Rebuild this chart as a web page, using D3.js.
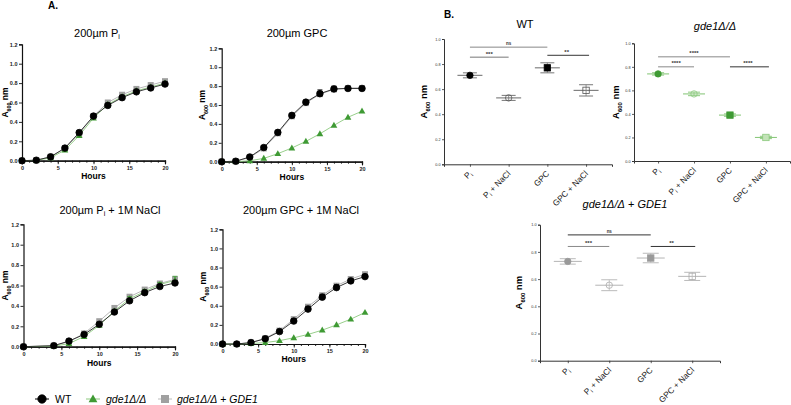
<!DOCTYPE html>
<html><head><meta charset="utf-8">
<script src="https://cdn.jsdelivr.net/npm/d3@7"></script>
<style>body{margin:0;background:#fff}svg{display:block;font-family:"Liberation Sans",Arial,sans-serif}</style>
</head><body><svg id="c" width="791" height="405"></svg>
<script>
// ---------- DATA ----------
const hours = [0,2,4,6,8,10,12,14,16,18,20];
const hoursNaCl = [0,4,6,8,10,12,14,16,18,20];
const seriesNames = ["WT","gde1Δ/Δ","gde1Δ/Δ + GDE1"];
// Panel A1: 200µm Pi
const wtPi   = [0,0.005,0.04,0.13,0.29,0.46,0.57,0.65,0.71,0.75,0.79];
const gdePi  = [0,0.003,0.03,0.11,0.26,0.44,0.58,0.66,0.72,0.76,0.80];
const compPi = [0,0.005,0.04,0.13,0.28,0.46,0.60,0.68,0.74,0.78,0.82];
// Panel A2: 200µm GPC
const wtGPC   = [0,0.005,0.05,0.15,0.31,0.49,0.63,0.72,0.77,0.775,0.775];
const wtGPCErr= [0,0,0.01,0.015,0.02,0.02,0.02,0.04,0.03,0.01,0.01];
const gdeGPC  = [0,0,0.01,0.035,0.085,0.145,0.215,0.295,0.385,0.47,0.535];
const compGPC = [0,0.005,0.045,0.14,0.30,0.48,0.62,0.715,0.765,0.78,0.78];
// Panel A3: 200µm Pi + 1M NaCl
const wtPiNaCl   = [0,0.01,0.055,0.12,0.22,0.34,0.45,0.53,0.59,0.625];
const gdePiNaCl  = [0,0.005,0.03,0.10,0.21,0.35,0.47,0.54,0.61,0.65];
const gdePiNaClErr=[0,0,0.005,0.01,0.01,0.015,0.02,0.02,0.02,0.04];
const compPiNaCl = [0,0.01,0.05,0.13,0.25,0.38,0.49,0.56,0.62,0.66];
// Panel A4: 200µm GPC + 1M NaCl
const wtGPCNaCl   = [0,0,0.015,0.055,0.13,0.24,0.365,0.49,0.59,0.66,0.705];
const wtGPCNaClErr= [0,0,0.005,0.01,0.02,0.025,0.03,0.03,0.03,0.02,0.02];
const gdeGPCNaCl  = [0,0,0.005,0.015,0.035,0.065,0.10,0.145,0.20,0.26,0.33];
const compGPCNaCl = [0,0,0.015,0.06,0.14,0.26,0.39,0.51,0.61,0.68,0.73];
const xTicksA = [0,5,10,15,20];
const yTicksA = [0,0.2,0.4,0.6,0.8,1.0,1.2];
// Panel B
const bCategories = ["Pi","Pi + NaCl","GPC","GPC + NaCl"];
const wtMeans = [0.71,0.53,0.77,0.59];
const wtErr   = [0.02,0.02,0.04,0.045];
const gdeMeans= [0.74,0.57,0.39,0.20];
const gdeErr  = [0.01,0.015,0.01,0.01];
const compMeans=[0.73,0.555,0.755,0.62];
const compErr = [0.02,0.04,0.035,0.03];
const yTicksB = [0,0.2,0.4,0.6,0.8,1.0];
const wtSig   = [[0,1,0.855,"***"],[0,2,0.935,"ns"],[2,3,0.87,"**"]];
const gdeSig  = [[0,1,0.80,"****"],[0,2,0.885,"****"],[2,3,0.80,"****"]];
const compSig = [[0,2,0.925,"ns"],[0,1,0.84,"***"],[2,3,0.84,"**"]];

// ---------- STYLE ----------
const GREEN = "#3f9a34", GREEN_L = "#8cc97e", GRAY = "#a0a0a0";
const svg = d3.select("#c");

function a600(g, x, y, size){
  const t = g.append("text").attr("transform",`translate(${x},${y}) rotate(-90)`)
    .attr("text-anchor","middle").attr("font-size",size).attr("font-weight","bold");
  t.append("tspan").text("A");
  t.append("tspan").attr("font-size",size*0.62).attr("dy",size*0.3).text("600");
  t.append("tspan").attr("dy",-size*0.3).text(" nm");
}

function marker(g, type, x, y, fill, stroke, s){
  if(type==="circle") g.append("circle").attr("cx",x).attr("cy",y).attr("r",s).attr("fill",fill).attr("stroke",stroke).attr("stroke-width",0.8);
  else if(type==="square") g.append("rect").attr("x",x-s).attr("y",y-s).attr("width",2*s).attr("height",2*s).attr("fill",fill).attr("stroke",stroke).attr("stroke-width",0.8);
  else if(type==="tri") g.append("path").attr("d",`M${x},${y-s*1.1}L${x+s*1.05},${y+s*0.75}L${x-s*1.05},${y+s*0.75}Z`).attr("fill",fill);
}

function panelA(o){
  const g = svg.append("g");
  const x = d3.scaleLinear().domain([0,20]).range([o.x0,o.x1]);
  const y = d3.scaleLinear().domain([0,1.2]).range([o.y0,o.y1]);
  const ax = g.append("g").attr("transform",`translate(0,${o.y0})`)
    .call(d3.axisBottom(x).tickValues(d3.range(0,21,1)).tickSize(2).tickFormat(""));
  const ax2 = g.append("g").attr("transform",`translate(0,${o.y0})`)
    .call(d3.axisBottom(x).tickValues(xTicksA).tickSize(3.5).tickPadding(2).tickFormat(d3.format("d")));
  const ay = g.append("g").attr("transform",`translate(${o.x0},0)`)
    .call(d3.axisLeft(y).tickValues(yTicksA).tickSize(3).tickPadding(1.5).tickFormat(d3.format(".1f")));
  [ax,ax2,ay].forEach(a=>{a.select(".domain").attr("stroke","#111").attr("stroke-width",1.2);
    a.selectAll(".tick line").attr("stroke","#111").attr("stroke-width",0.9);
    a.selectAll("text").attr("font-size",5.5).attr("font-weight","bold").attr("fill","#222");});
  const t = g.append("text").attr("x",o.tx).attr("y",o.ty).attr("text-anchor","middle").attr("font-size",11);
  t.append("tspan").text(o.title[0]);
  if(o.title.length>1){ t.append("tspan").attr("font-size",7).attr("dy",2).text("i"); t.append("tspan").attr("dy",-2).text(o.title[1]); }
  a600(g, o.ax, (o.y0+o.y1)/2, 8.5);
  g.append("text").attr("x",(o.x0+o.x1)/2).attr("y",o.hy).attr("text-anchor","middle").attr("font-size",8.5).attr("font-weight","bold").text("Hours");
  const line = d3.line().x(d=>x(d[0])).y(d=>y(d[1]));
  const series = [
    {v:o.comp, e:o.compErr, col:GRAY, lc:"#b0b0b0", type:"square", s:3},
    {v:o.gde, e:o.gdeErr, col:GREEN, lc:GREEN_L, type:"tri", s:3.2},
    {v:o.wt, e:o.wtErr, col:"#000", lc:"#222", type:"circle", s:3.3}];
  series.forEach(S=>{
    const pts = o.t.map((h,i)=>[h,S.v[i]]);
    g.append("path").datum(pts).attr("d",line).attr("fill","none").attr("stroke",S.lc).attr("stroke-width",0.9);
    if(S.e) o.t.forEach((h,i)=>{ if(S.e[i]>0.012){
      g.append("line").attr("x1",x(h)).attr("x2",x(h)).attr("y1",y(S.v[i])).attr("y2",y(S.v[i]+S.e[i])).attr("stroke",S.col).attr("stroke-width",0.9);
      g.append("line").attr("x1",x(h)-2.5).attr("x2",x(h)+2.5).attr("y1",y(S.v[i]+S.e[i])).attr("y2",y(S.v[i]+S.e[i])).attr("stroke",S.col).attr("stroke-width",0.9);}});
    pts.forEach(p=>marker(g,S.type,x(p[0]),y(p[1]),S.col,S.col==="#000"?"#000":"none",S.s));
  });
}

panelA({x0:22,x1:165,y0:160.7,y1:44.3,tx:97,ty:37,ax:8,hy:179,title:["200µm P",""],t:hours,
  wt:wtPi,gde:gdePi,comp:compPi});
panelA({x0:221.7,x1:362,y0:161.7,y1:48.3,tx:297,ty:37,ax:205,hy:180,title:["200µm GPC"],t:hours,
  wt:wtGPC,wtErr:wtGPCErr,gde:gdeGPC,comp:compGPC});
panelA({x0:23.5,x1:175,y0:346.7,y1:224.3,tx:110,ty:214,ax:8,hy:366,title:["200µm P"," + 1M NaCl"],t:hoursNaCl,
  wt:wtPiNaCl,gde:gdePiNaCl,gdeErr:gdePiNaClErr,comp:compPiNaCl});
panelA({x0:222.5,x1:365,y0:344,y1:229.3,tx:301,ty:214,ax:206,hy:362,title:["200µm GPC + 1M NaCl"],t:hours,
  wt:wtGPCNaCl,wtErr:wtGPCNaClErr,gde:gdeGPCNaCl,comp:compGPCNaCl});

svg.append("text").attr("x",48).attr("y",9).attr("font-size",10).attr("font-weight","bold").text("A.");
svg.append("text").attr("x",444).attr("y",18).attr("font-size",10).attr("font-weight","bold").text("B.");

// legend
(function(){
  const ly = 399;
  const g = svg.append("g");
  const items = [
    {x:42, type:"circle", col:"#000", lc:"#000", s:4.2, tx:55},
    {x:93, type:"tri", col:GREEN, lc:GREEN_L, s:4.2, tx:106},
    {x:165, type:"square", col:GRAY, lc:"#bbb", s:4, tx:177}];
  items.forEach((it,i)=>{
    g.append("line").attr("x1",it.x-7).attr("x2",it.x+7).attr("y1",ly).attr("y2",ly).attr("stroke",it.lc).attr("stroke-width",1);
    marker(g,it.type,it.x,ly,it.col,it.col==="#000"?"#000":"none",it.s);
    const t = g.append("text").attr("x",it.tx).attr("y",ly+3.7).attr("font-size",10.5);
    if(i===0) t.text(seriesNames[0]);
    else if(i===1) t.append("tspan").attr("font-style","italic").text(seriesNames[1]);
    else { t.append("tspan").attr("font-style","italic").text("gde1Δ/Δ"); t.append("tspan").text(" + "); t.append("tspan").attr("font-style","italic").text("GDE1"); }
  });
})();

function catLabel(g, x, y, name){
  const t = g.append("text").attr("transform",`translate(${x+2.5},${y}) rotate(-45)`).attr("text-anchor","end").attr("font-size",8.3).attr("fill","#222");
  if(name.startsWith("Pi")){ t.append("tspan").text("P"); t.append("tspan").attr("font-size",5.8).attr("dy",1.8).text("i");
    if(name.length>2) t.append("tspan").attr("dy",-1.8).text(name.slice(2)); }
  else t.text(name);
}

function panelB(o){
  const g = svg.append("g");
  const x = d3.scalePoint().domain(bCategories).range([o.x0,o.x1]).padding(0.67);
  const y = d3.scaleLinear().domain([0,1]).range([o.y0,o.y1]);
  const ax = g.append("g").attr("transform",`translate(0,${o.y0})`).call(d3.axisBottom(x).tickSize(2.5).tickFormat(""));
  const ay = g.append("g").attr("transform",`translate(${o.x0},0)`).call(d3.axisLeft(y).tickValues(yTicksB).tickSize(2).tickPadding(1.5).tickFormat(d3.format(".1f")));
  [ax,ay].forEach(a=>{a.select(".domain").attr("stroke","#333").attr("stroke-width",1);
    a.selectAll(".tick line").attr("stroke","#333").attr("stroke-width",0.8);
    a.selectAll("text").attr("font-size",3.8).attr("fill","#333");});
  bCategories.forEach(c=>catLabel(g, x(c), o.y0+10, c));
  const tt = g.append("text").attr("x",o.tx).attr("y",o.ty).attr("text-anchor","middle").attr("font-size",11);
  if(o.title==="WT") tt.text("WT");
  else if(o.title==="gde") tt.attr("font-style","italic").text("gde1Δ/Δ");
  else { tt.append("tspan").attr("font-style","italic").text("gde1Δ/Δ"); tt.append("tspan").text(" + "); tt.append("tspan").attr("font-style","italic").text("GDE1"); }
  a600(g, o.ax, (o.y0+o.y1)/2, 9.5);
  o.sig.forEach((s,i)=>{
    const yy = y(s[2]);
    g.append("line").attr("x1",x(bCategories[s[0]])).attr("x2",x(bCategories[s[1]])+ (s[1]===3?3:0)).attr("y1",yy).attr("y2",yy)
      .attr("stroke",o.sigCol[i]).attr("stroke-width",1);
    g.append("text").attr("x",(x(bCategories[s[0]])+x(bCategories[s[1]]))/2).attr("y",yy-(s[3]==="ns"?2:1.5)).attr("text-anchor","middle")
      .attr("font-size",s[3]==="ns"?4.5:6).attr("font-weight","bold").attr("fill","#333").text(s[3]);
  });
  bCategories.forEach((c,i)=>{
    const cx = x(c), m = o.means[i], e = o.err[i], st = o.styles[i];
    g.append("line").attr("x1",cx-o.mw).attr("x2",cx+o.mw).attr("y1",y(m)).attr("y2",y(m)).attr("stroke",st.line).attr("stroke-width",1.1);
    [m-e,m+e].forEach(v=>g.append("line").attr("x1",cx-o.cw).attr("x2",cx+o.cw).attr("y1",y(v)).attr("y2",y(v)).attr("stroke",st.line).attr("stroke-width",1));
    g.append("line").attr("x1",cx).attr("x2",cx).attr("y1",y(m-e)).attr("y2",y(m+e)).attr("stroke",st.line).attr("stroke-width",0.8);
    marker(g, i<2?"circle":"square", cx, y(m), st.fill, st.stroke, 3.2);
  });
}

panelB({x0:444,x1:612,y0:164.3,y1:39,tx:525,ty:28,ax:427,title:"WT",means:wtMeans,err:wtErr,sig:wtSig,mw:12.5,cw:7,
  sigCol:["#777","#888","#333"],
  styles:[{fill:"#000",stroke:"#000",line:"#777"},{fill:"none",stroke:"#555",line:"#777"},{fill:"#000",stroke:"#000",line:"#777"},{fill:"none",stroke:"#555",line:"#777"}]});
panelB({x0:634,x1:790,y0:161,y1:43.3,tx:715,ty:30,ax:619,title:"gde",means:gdeMeans,err:gdeErr,sig:gdeSig,mw:11,cw:6,
  sigCol:["#888","#888","#333"],
  styles:[{fill:GREEN,stroke:GREEN,line:GREEN_L},{fill:"none",stroke:GREEN_L,line:GREEN_L},{fill:GREEN,stroke:GREEN,line:GREEN_L},{fill:"#c3e3b8",stroke:GREEN_L,line:GREEN_L}]});
panelB({x0:540,x1:720,y0:360.7,y1:224.7,tx:625,ty:208,ax:522,title:"comp",means:compMeans,err:compErr,sig:compSig,mw:14,cw:8,
  sigCol:["#333","#888","#333"],
  styles:[{fill:"#999",stroke:"#999",line:"#bbb"},{fill:"none",stroke:"#aaa",line:"#bbb"},{fill:"#999",stroke:"#999",line:"#bbb"},{fill:"none",stroke:"#aaa",line:"#bbb"}]});
</script></body></html>
